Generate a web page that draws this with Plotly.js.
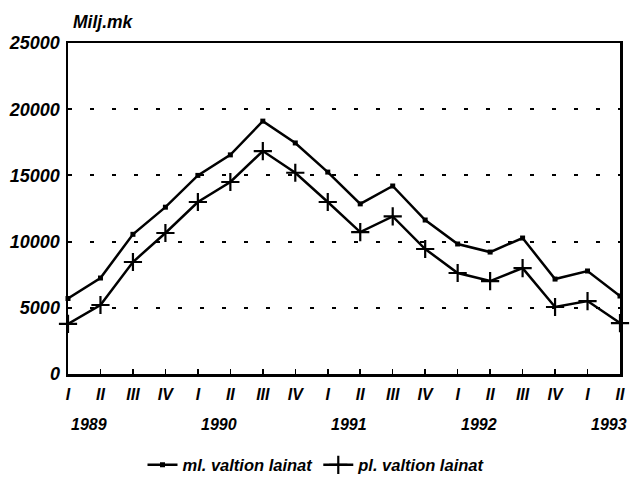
<!DOCTYPE html>
<html>
<head>
<meta charset="utf-8">
<script src="https://cdn.plot.ly/plotly-3.0.1.min.js"></script>
<style>html,body{margin:0;padding:0;background:#fff;}#chart{width:633px;height:477px;}</style>
</head>
<body>
<div id="chart"></div>
<script>
const quarters = ["I","II","III","IV","I","II","III","IV","I","II","III","IV","I","II","III","IV","I","II"];
const years = ["1989","1990","1991","1992","1993"];
const yearStartIndex = [0, 4, 8, 12, 16];
const mlValtionLainat = [5700, 7250, 10550, 12600, 15000, 16550, 19100, 17450, 15250, 12850, 14200, 11630, 9820, 9210, 10270, 7170, 7780, 5890];
const plValtionLainat = [3780, 5210, 8460, 10650, 12990, 14500, 16840, 15200, 12990, 10720, 11900, 9440, 7630, 7020, 8000, 5060, 5510, 3850];
const seriesNames = ["ml. valtion lainat", "pl. valtion lainat"];
const yTicks = [0, 5000, 10000, 15000, 20000, 25000];

const idx = quarters.map((q, i) => i);
const fontBase = {family: "Liberation Sans, Arial, sans-serif", weight: "bold", style: "italic", color: "#000"};

const traces = [
  {
    x: idx, y: mlValtionLainat, name: seriesNames[0], type: "scatter", mode: "lines+markers",
    line: {color: "#000", width: 2.5},
    marker: {symbol: "square", size: 5, color: "#000"},
    cliponaxis: false
  },
  {
    x: idx, y: plValtionLainat, name: seriesNames[1], type: "scatter", mode: "lines+markers",
    line: {color: "#000", width: 2.5},
    marker: {symbol: "cross-thin-open", size: 13, color: "#000", line: {color: "#000", width: 2.2}},
    cliponaxis: false
  }
];

const plotW = 633 - 68 - 13, plotH = 477 - 43 - 103;
const annotations = years.map((yr, i) => ({
  x: yearStartIndex[i] + 0.65, y: 0, xref: "x", yref: "paper", yshift: -50,
  text: yr, showarrow: false, xanchor: "center", yanchor: "middle",
  font: Object.assign({}, fontBase, {size: 16})
}));
annotations.push({
  x: (71 - 68) / plotW, y: 1 + (43 - 22) / plotH, xref: "paper", yref: "paper",
  text: "Milj.mk", showarrow: false, xanchor: "left", yanchor: "middle",
  font: Object.assign({}, fontBase, {size: 17.5})
});

const layout = {
  width: 633, height: 477,
  margin: {l: 68, r: 13, t: 43, b: 103},
  paper_bgcolor: "#fff", plot_bgcolor: "#fff",
  showlegend: true,
  legend: {
    orientation: "h", xref: "container", x: 0.5, xanchor: "center",
    yref: "container", y: 0.025, yanchor: "middle",
    font: Object.assign({}, fontBase, {size: 16.5}),
    itemwidth: 30, tracegroupgap: 0, bgcolor: "rgba(0,0,0,0)"
  },
  xaxis: {
    range: [0, quarters.length - 1], tickmode: "array", tickvals: idx, ticktext: quarters,
    showgrid: false, zeroline: false, showline: true, mirror: true, linecolor: "#000", linewidth: 2.5,
    ticks: "inside", ticklen: 5, tickwidth: 1.5, tickcolor: "#000",
    tickfont: Object.assign({}, fontBase, {size: 16}), ticklabelstandoff: 4
  },
  yaxis: {
    range: [0, 25000], tickmode: "array", tickvals: yTicks, ticktext: yTicks.map(String),
    showgrid: true, gridcolor: "#000", gridwidth: 2, griddash: "4px,18px",
    zeroline: false, showline: true, mirror: true, linecolor: "#000", linewidth: 2.5,
    ticks: "", tickfont: Object.assign({}, fontBase, {size: 18}), ticklabelstandoff: 2
  },
  annotations: annotations
};

Plotly.newPlot("chart", traces, layout, {displayModeBar: false, staticPlot: true});
</script>
</body>
</html>
